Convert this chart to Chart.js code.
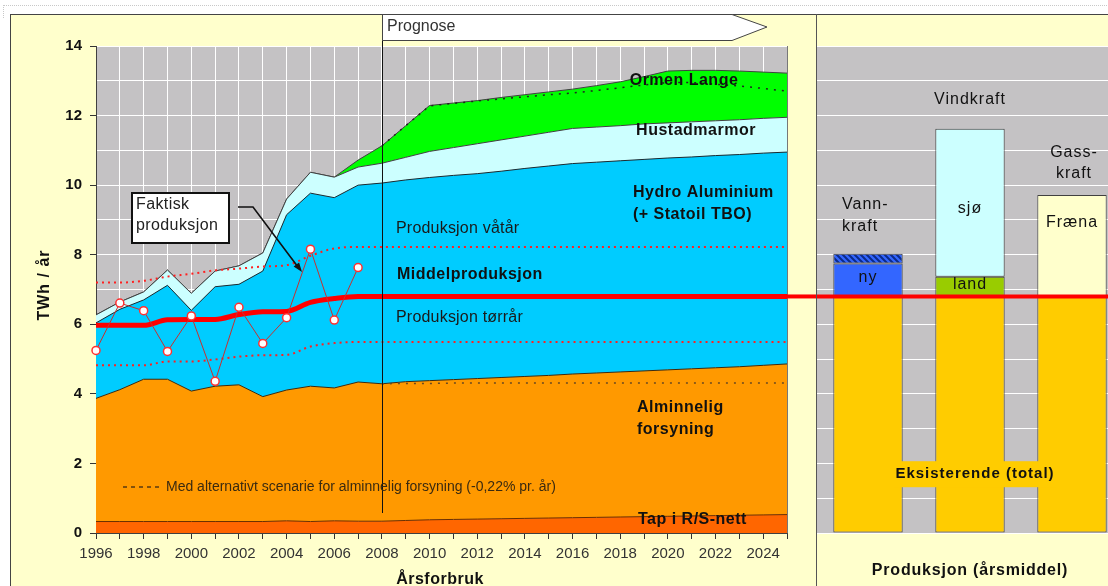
<!DOCTYPE html>
<html>
<head>
<meta charset="utf-8">
<script src="https://cdn.jsdelivr.net/npm/chart.js@4"></script>
<style>
  body { margin: 0; width: 1108px; height: 586px; overflow: hidden; background: #fff; position: relative; font-family: "Liberation Sans", Arial, sans-serif; }
  #prikk { position: absolute; left: 3px; top: 5px; width: 1105px; height: 12px; border-top: 1px dotted #c8c8c8; border-left: 1px dotted #c8c8c8; }
  #ramme { position: absolute; left: 10px; top: 14px; width: 1110px; height: 590px; background: #FFFFCC; border-left: 1px solid #444; border-top: 1px solid #444; }
  #skille { position: absolute; left: 816px; top: 14px; width: 1px; height: 580px; background: #555; z-index: 5; }
  #forbruk { position: absolute; left: 0; top: 0; }
  #produksjon { position: absolute; left: 816px; top: 0; }
</style>
</head>
<body>
<div id="prikk"></div>
<div id="ramme"></div>
<canvas id="forbruk" width="816" height="586"></canvas>
<canvas id="produksjon" width="320" height="586"></canvas>
<div id="skille"></div>
<script>
// Årsforbruk 1996-2025 (TWh/år), lagvis
const years = ['1996', '1997', '1998', '1999', '2000', '2001', '2002', '2003', '2004', '2005',
    '2006', '2007', '2008', '2009', '2010', '2011', '2012', '2013', '2014', '2015',
    '2016', '2017', '2018', '2019', '2020', '2021', '2022', '2023', '2024', '2025'];
const tap = [0.33, 0.33, 0.33, 0.33, 0.33, 0.33, 0.33, 0.33, 0.35, 0.33,
    0.35, 0.34, 0.34, 0.36, 0.38, 0.39, 0.40, 0.41, 0.42, 0.43,
    0.44, 0.45, 0.46, 0.47, 0.48, 0.49, 0.50, 0.51, 0.52, 0.53];
const alminnelig = [3.54, 3.79, 4.09, 4.09, 3.75, 3.89, 3.93, 3.59, 3.76, 3.89,
    3.82, 4.00, 3.95, 3.99, 4.00, 4.02, 4.04, 4.06, 4.08, 4.10,
    4.13, 4.15, 4.17, 4.19, 4.21, 4.23, 4.25, 4.27, 4.30, 4.33];
const hydro = [2.17, 2.31, 2.28, 2.70, 2.32, 2.86, 2.89, 3.61, 5.04, 5.55,
    5.47, 5.66, 5.77, 5.80, 5.84, 5.87, 5.89, 5.93, 5.98, 6.02,
    6.05, 6.06, 6.07, 6.08, 6.09, 6.09, 6.10, 6.10, 6.10, 6.09];
const hustad = [0.23, 0.21, 0.23, 0.44, 0.49, 0.45, 0.53, 0.52, 0.45, 0.60,
    0.59, 0.52, 0.57, 0.65, 0.75, 0.80, 0.86, 0.90, 0.93, 0.97,
    1.01, 1.01, 1.01, 1.02, 1.01, 1.01, 1.00, 1.00, 1.00, 1.00];
const ormen = [0, 0, 0, 0, 0, 0, 0, 0, 0, 0,
    0, 0.20, 0.50, 0.91, 1.32, 1.28, 1.24, 1.22, 1.19, 1.16,
    1.13, 1.19, 1.26, 1.36, 1.49, 1.48, 1.45, 1.40, 1.33, 1.27];
// alternative forløp (stiplet)
const altOrmen = [null, null, null, null, null, null, null, null, null, null,
    null, null, 11.13, 11.71, 12.28, 12.35, 12.42, 12.48, 12.54, 12.60,
    12.65, 12.72, 12.80, 12.88, 12.95, 12.95, 12.90, 12.85, 12.78, 12.70];
const altForsyning = [null, null, null, null, null, null, null, null, null, null,
    null, null, 4.29, 4.30, 4.30, 4.31, 4.31, 4.31, 4.31, 4.31,
    4.31, 4.31, 4.31, 4.31, 4.31, 4.31, 4.31, 4.31, 4.31, 4.31];
// produksjon
const middel = [5.97, 5.97, 5.97, 6.13, 6.14, 6.14, 6.28, 6.36, 6.37, 6.63,
    6.74, 6.80, 6.80, 6.80, 6.80, 6.80, 6.80, 6.80, 6.80, 6.80,
    6.80, 6.80, 6.80, 6.80, 6.80, 6.80, 6.80, 6.80, 6.80, 6.80];
const vatar = [7.20, 7.20, 7.25, 7.37, 7.45, 7.55, 7.60, 7.66, 7.70, 7.97,
    8.18, 8.22, 8.22, 8.22, 8.22, 8.22, 8.22, 8.22, 8.22, 8.22,
    8.22, 8.22, 8.22, 8.22, 8.22, 8.22, 8.22, 8.22, 8.22, 8.22];
const torrar = [4.82, 4.82, 4.82, 4.93, 4.93, 4.99, 5.07, 5.11, 5.12, 5.36,
    5.46, 5.49, 5.49, 5.49, 5.49, 5.49, 5.49, 5.49, 5.49, 5.49,
    5.49, 5.49, 5.49, 5.49, 5.49, 5.49, 5.49, 5.49, 5.49, 5.49];
const faktisk = [5.25, 6.61, 6.39, 5.22, 6.24, 4.36, 6.49, 5.45, 6.19, 8.16,
    6.12, 7.63, null, null, null, null, null, null, null, null,
    null, null, null, null, null, null, null, null, null, null];
const prognoseFra = '2008';

// Produksjon (årsmiddel), stolper
const kilder = ['Vannkraft', 'Vindkraft', 'Gasskraft'];
const eksisterende = [6.8, 6.8, 6.8];
const nyLandFraena = [0.95, 0.57, 2.92];
const toppSjo = [0.28, 4.25, 0];

const GRAA = '#C4C2C4';
const FONT = '"Liberation Sans", Arial, sans-serif';

function tekst(ctx, s, x, y, font, align, farge, sp) {
    ctx.save();
    ctx.font = font + ' ' + FONT;
    ctx.fillStyle = farge || '#111';
    ctx.textAlign = align || 'left';
    ctx.textBaseline = 'middle';
    ctx.letterSpacing = sp || '0px';
    ctx.fillText(s, x, y);
    ctx.restore();
}

const bakgrunn = {
    id: 'bakgrunn',
    beforeDraw(chart) {
        const { ctx, chartArea: a } = chart;
        ctx.save();
        ctx.fillStyle = GRAA;
        ctx.fillRect(a.left, a.top, a.right - a.left, a.bottom - a.top);
        ctx.restore();
    }
};

function lag(label, data, bg, border, fill) {
    return {
        label: label, data: data, backgroundColor: bg, borderColor: border,
        borderWidth: 1, pointRadius: 0, stack: 'forbruk', order: 0, fill: fill
    };
}

// tekster, piler og linjer på venstre diagram
const forbrukTekst = {
    id: 'forbrukTekst',
    afterDatasetsDraw(chart) {
        const { ctx, chartArea: a, scales } = chart;
        const x = scales.x, y = scales.y;

        // kant til høyre
        ctx.save();
        ctx.strokeStyle = '#777';
        ctx.lineWidth = 1;
        ctx.beginPath();
        ctx.moveTo(a.right + 0.5, a.top);
        ctx.lineTo(a.right + 0.5, a.bottom);
        ctx.stroke();

        // middelproduksjon videre mot høyre panel
        const ym = y.getPixelForValue(middel[middel.length - 1]);
        ctx.strokeStyle = '#FF0000';
        ctx.lineWidth = 4;
        ctx.beginPath();
        ctx.moveTo(a.right, ym);
        ctx.lineTo(chart.width, ym);
        ctx.stroke();

        // prognose-skille
        const xp = Math.round(x.getPixelForValue(years.indexOf(prognoseFra))) + 0.5;
        ctx.strokeStyle = '#111';
        ctx.lineWidth = 1;
        ctx.beginPath();
        ctx.moveTo(xp, 14);
        ctx.lineTo(xp, 513);
        ctx.stroke();

        // Prognose-pil
        ctx.fillStyle = '#fff';
        ctx.strokeStyle = '#444';
        ctx.beginPath();
        ctx.moveTo(xp, 14.5);
        ctx.lineTo(732, 14.5);
        ctx.lineTo(767, 27);
        ctx.lineTo(732, 40.5);
        ctx.lineTo(xp, 40.5);
        ctx.closePath();
        ctx.fill();
        ctx.stroke();
        ctx.restore();
        tekst(ctx, 'Prognose', 387, 27, '16px', 'left', '#333');

        // Faktisk produksjon-boks med pil
        ctx.save();
        ctx.fillStyle = '#fff';
        ctx.strokeStyle = '#111';
        ctx.lineWidth = 2;
        ctx.fillRect(132, 193, 97, 50);
        ctx.strokeRect(132, 193, 97, 50);
        ctx.lineWidth = 1.6;
        ctx.beginPath();
        ctx.moveTo(238, 207);
        ctx.lineTo(253, 207);
        ctx.lineTo(298, 267);
        ctx.stroke();
        const ang = Math.atan2(272 - 207, 302 - 253);
        ctx.fillStyle = '#111';
        ctx.beginPath();
        ctx.moveTo(302, 272);
        ctx.lineTo(302 - 10 * Math.cos(ang - 0.35), 272 - 10 * Math.sin(ang - 0.35));
        ctx.lineTo(302 - 10 * Math.cos(ang + 0.35), 272 - 10 * Math.sin(ang + 0.35));
        ctx.closePath();
        ctx.fill();
        ctx.restore();
        tekst(ctx, 'Faktisk', 136, 205, '16px', 'left', '#222', '0.4px');
        tekst(ctx, 'produksjon', 136, 226, '16px', 'left', '#222', '0.4px');

        // lagnavn
        const b = 'bold 16px';
        tekst(ctx, 'Ormen Lange', 684, 81, b, 'center', '#111', '0.5px');
        tekst(ctx, 'Hustadmarmor', 696, 131, b, 'center', '#111', '0.5px');
        tekst(ctx, 'Hydro Aluminium', 633, 193, b, 'left', '#111', '0.5px');
        tekst(ctx, '(+ Statoil TBO)', 633, 215, b, 'left', '#111', '0.5px');
        tekst(ctx, 'Produksjon våtår', 396, 229, '16px', 'left', '#1a1a1a', '0.2px');
        tekst(ctx, 'Middelproduksjon', 397, 275, b, 'left', '#111', '0.5px');
        tekst(ctx, 'Produksjon tørrår', 396, 318, '16px', 'left', '#1a1a1a', '0.2px');
        tekst(ctx, 'Alminnelig', 637, 408, b, 'left', '#111', '0.5px');
        tekst(ctx, 'forsyning', 637, 430, b, 'left', '#111', '0.5px');
        tekst(ctx, 'Tap i R/S-nett', 638, 520, b, 'left', '#111', '0.5px');

        // forklaring stiplet linje
        ctx.save();
        ctx.strokeStyle = '#5a3a10';
        ctx.lineWidth = 1.5;
        ctx.setLineDash([4, 4]);
        ctx.beginPath();
        ctx.moveTo(123, 487);
        ctx.lineTo(163, 487);
        ctx.stroke();
        ctx.restore();
        tekst(ctx, 'Med alternativt scenarie for alminnelig forsyning (-0,22% pr. år)', 166, 487, '14px', 'left', '#3a2a10');

        // aksetitler
        ctx.save();
        ctx.translate(45, 285);
        ctx.rotate(-Math.PI / 2);
        tekst(ctx, 'TWh / år', 0, 0, 'bold 16px', 'center', '#111', '1px');
        ctx.restore();
        tekst(ctx, 'Årsforbruk', 440, 580, 'bold 16px', 'center', '#111', '0.5px');
    }
};

new Chart(document.getElementById('forbruk'), {
    type: 'line',
    data: {
        labels: years,
        datasets: [
            lag('Tap i R/S-nett', tap, '#FF6600', '#6b3000', 'origin'),
            lag('Alminnelig forsyning', alminnelig, '#FF9900', '#3a2a10', '-1'),
            lag('Hydro Aluminium', hydro, '#00CCFF', '#1a2a30', '-1'),
            lag('Hustadmarmor', hustad, '#CCFFFF', '#404040', '-1'),
            lag('Ormen Lange', ormen, '#00FF00', '#404040', '-1'),
            {
                label: 'Faktisk produksjon', data: faktisk, stack: 'faktisk', order: -3, fill: false,
                borderColor: '#C83030', borderWidth: 1, pointRadius: 4,
                pointBackgroundColor: '#fff', pointBorderColor: '#FF3030', pointBorderWidth: 1.5
            },
            {
                label: 'Middelproduksjon', data: middel, stack: 'middel', order: -2, fill: false,
                borderColor: '#FF0000', borderWidth: 5, pointRadius: 0, cubicInterpolationMode: 'monotone'
            },
            {
                label: 'Produksjon våtår', data: vatar, stack: 'vatar', order: -1, fill: false,
                borderColor: '#FF2020', borderWidth: 2, borderDash: [2, 4], pointRadius: 0,
                cubicInterpolationMode: 'monotone'
            },
            {
                label: 'Produksjon tørrår', data: torrar, stack: 'torrar', order: -1, fill: false,
                borderColor: '#FF2020', borderWidth: 2, borderDash: [2, 4], pointRadius: 0,
                cubicInterpolationMode: 'monotone'
            },
            {
                label: 'Alternativ forsyning', data: altForsyning, stack: 'altForsyning', order: -1, fill: false,
                borderColor: '#6b4a20', borderWidth: 1.5, borderDash: [2, 6], pointRadius: 0
            },
            {
                label: 'Alternativ Ormen Lange', data: altOrmen, stack: 'altOrmen', order: -1, fill: false,
                borderColor: '#222', borderWidth: 1.5, borderDash: [2, 6], pointRadius: 0
            }
        ]
    },
    options: {
        responsive: false,
        animation: false,
        layout: { padding: { left: 0, top: 46, right: 29, bottom: 0 } },
        plugins: { legend: { display: false }, tooltip: { enabled: false } },
        scales: {
            x: {
                offset: false,
                grid: { color: '#FFFFFF', tickColor: '#333', tickLength: 6 },
                border: { color: '#404040', width: 1 },
                ticks: {
                    autoSkip: false, maxRotation: 0, padding: 6,
                    color: '#333', font: { size: 15, family: FONT },
                    callback: (v, i) => (Number(years[i]) % 2 === 0 ? years[i] : '')
                },
                afterFit: (s) => { s.height = 53; }
            },
            y: {
                stacked: true, min: 0, max: 14,
                grid: {
                    color: '#FFFFFF', tickLength: 6,
                    tickColor: (c) => (c.tick && c.tick.value % 2 === 0 ? '#333' : 'rgba(0,0,0,0)')
                },
                border: { color: '#404040', width: 1 },
                ticks: {
                    stepSize: 1, padding: 8, color: '#111',
                    font: { size: 15, weight: 'bold', family: FONT },
                    callback: (v) => (v % 2 === 0 ? v : '')
                },
                afterFit: (s) => { s.width = 96; }
            }
        }
    },
    plugins: [bakgrunn, forbrukTekst]
});

// skravert topp på vannkraft
function skravur() {
    const c = document.createElement('canvas');
    c.width = 6; c.height = 6;
    const g = c.getContext('2d');
    g.fillStyle = '#3366FF';
    g.fillRect(0, 0, 6, 6);
    g.strokeStyle = '#0a2a8a';
    g.lineWidth = 2;
    g.beginPath();
    g.moveTo(-3, 3); g.lineTo(3, 9);
    g.moveTo(0, 0); g.lineTo(6, 6);
    g.moveTo(3, -3); g.lineTo(9, 3);
    g.stroke();
    return g.createPattern(c, 'repeat');
}

const produksjonTekst = {
    id: 'produksjonTekst',
    afterDatasetsDraw(chart) {
        const { ctx, scales } = chart;
        const y = scales.y;
        const bunn = chart.getDatasetMeta(0).data;
        const midt = chart.getDatasetMeta(1).data;
        const topp = chart.getDatasetMeta(2).data;

        // gullfarget bakgrunn for Eksisterende
        const xe = bunn[1].x + 5;
        const ye = y.getPixelForValue(1.69);
        ctx.save();
        ctx.font = 'bold 15px ' + FONT;
        ctx.letterSpacing = '1px';
        const w = ctx.measureText('Eksisterende (total)').width;
        ctx.fillStyle = '#FFCC00';
        ctx.fillRect(xe - w / 2 - 2, ye - 13, w + 4, 26);
        ctx.restore();
        tekst(ctx, 'Eksisterende (total)', xe, ye, 'bold 15px', 'center', '#111', '1px');

        const n = '16px';
        tekst(ctx, 'ny', midt[0].x, (midt[0].y + midt[0].base) / 2 - 2, n, 'center', '#111', '1px');
        tekst(ctx, 'land', midt[1].x, (midt[1].y + midt[1].base) / 2 - 2, n, 'center', '#111', '1px');
        tekst(ctx, 'sjø', topp[1].x, topp[1].y + 80, n, 'center', '#111', '1px');
        tekst(ctx, 'Fræna', midt[2].x, midt[2].y + 28, n, 'center', '#111', '1px');

        tekst(ctx, 'Vindkraft', topp[1].x, 100, n, 'center', '#111', '1px');
        tekst(ctx, 'Vann-', bunn[0].x - 26, 205, n, 'left', '#111', '1px');
        tekst(ctx, 'kraft', bunn[0].x - 26, 227, n, 'left', '#111', '1px');
        tekst(ctx, 'Gass-', bunn[2].x + 2, 153, n, 'center', '#111', '1px');
        tekst(ctx, 'kraft', bunn[2].x + 2, 174, n, 'center', '#111', '1px');

        tekst(ctx, 'Produksjon (årsmiddel)', bunn[1].x, 571, 'bold 16px', 'center', '#111', '0.8px');

        // middelproduksjon tvers over panelet
        const ym = y.getPixelForValue(middel[middel.length - 1]);
        ctx.save();
        ctx.strokeStyle = '#FF0000';
        ctx.lineWidth = 4;
        ctx.beginPath();
        ctx.moveTo(0, ym);
        ctx.lineTo(chart.width, ym);
        ctx.stroke();
        ctx.restore();
    }
};

new Chart(document.getElementById('produksjon'), {
    type: 'bar',
    data: {
        labels: kilder,
        datasets: [
            {
                label: 'Eksisterende (total)', data: eksisterende,
                backgroundColor: '#FFCC00', borderColor: '#404040', borderWidth: 1, borderSkipped: false
            },
            {
                label: 'Ny / land / Fræna', data: nyLandFraena,
                backgroundColor: ['#3366FF', '#99CC00', '#FFFFCC'], borderColor: '#404040',
                borderWidth: 1, borderSkipped: false
            },
            {
                label: 'Skravert / sjø', data: toppSjo,
                backgroundColor: [skravur(), '#CCFFFF', 'rgba(0,0,0,0)'], borderColor: '#404040',
                borderWidth: [1, 1, 0], borderSkipped: false
            }
        ]
    },
    options: {
        responsive: false,
        animation: false,
        barPercentage: 0.68,
        categoryPercentage: 1,
        layout: { padding: { left: 1, top: 46, right: 13, bottom: 53 } },
        plugins: { legend: { display: false }, tooltip: { enabled: false } },
        scales: {
            x: { stacked: true, display: false },
            y: {
                stacked: true, min: 0, max: 14,
                grid: { color: '#FFFFFF', drawTicks: false },
                border: { display: false },
                ticks: { display: false, stepSize: 1 },
                afterFit: (s) => { s.width = 0; }
            }
        }
    },
    plugins: [bakgrunn, produksjonTekst]
});
</script>
</body>
</html>
